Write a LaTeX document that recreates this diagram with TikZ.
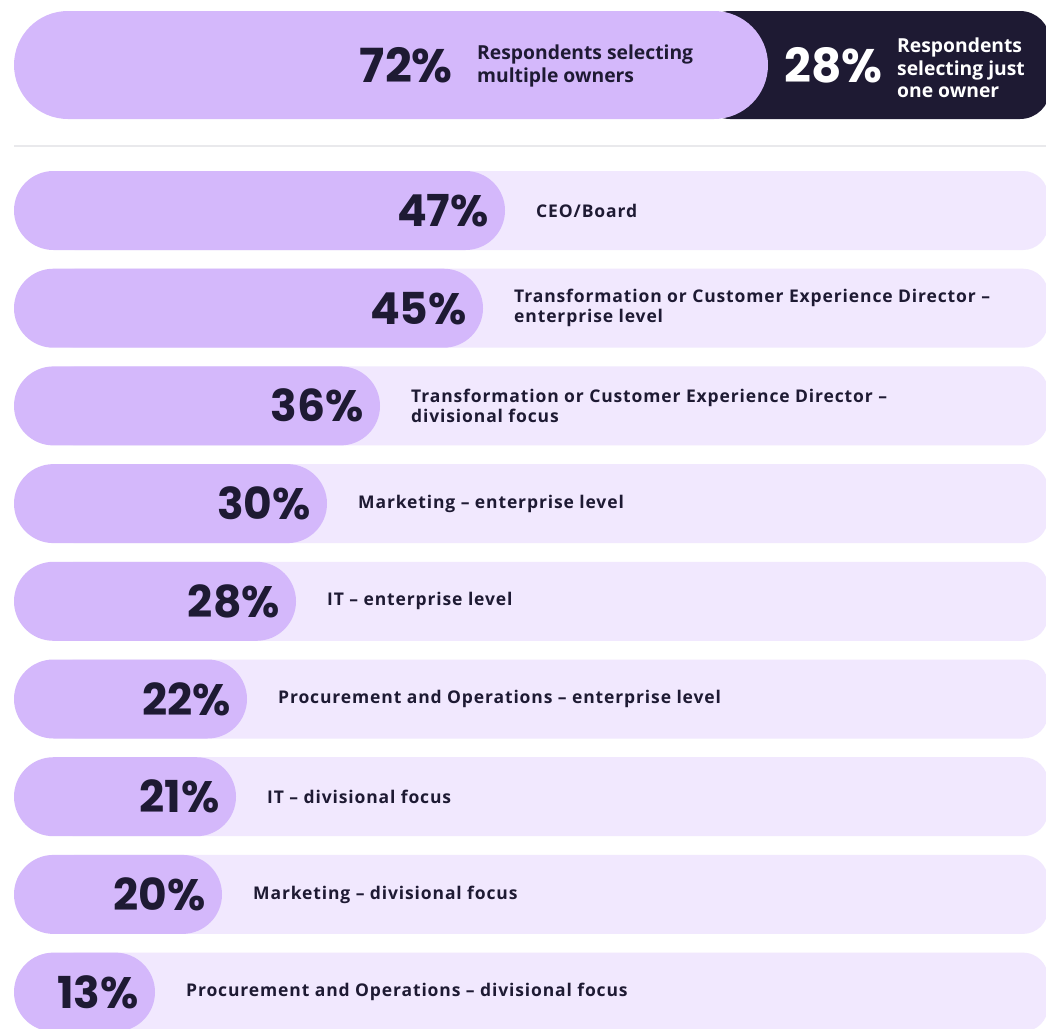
\documentclass[tikz,border=0pt]{standalone}
\usepackage{fontspec}
\setmainfont{Open Sans}
\newfontfamily\labfont[LetterSpace=5]{Open Sans}
\newfontfamily\numfont{Poppins}
\definecolor{lilac}{HTML}{D4B8FB}
\definecolor{lav}{HTML}{F1E8FE}
\definecolor{navy}{HTML}{1E1A33}
\definecolor{sep}{HTML}{E9E9EC}
\tikzset{
  bignum/.style={font=\numfont\bfseries\fontsize{44}{44}\selectfont, text=navy, inner sep=0pt, anchor=base east},
  topnum/.style={font=\numfont\bfseries\fontsize{47}{47}\selectfont, inner sep=0pt, anchor=base east},
  rowlab/.style={font=\labfont\bfseries\fontsize{17.5}{20}\selectfont, text=navy, inner sep=0pt, anchor=west, align=left},
  toplab/.style={font=\bfseries\fontsize{19.3}{22.5}\selectfont, inner sep=0pt, anchor=west, align=left},
}
\begin{document}
\begin{tikzpicture}[x=1pt,y=-1pt]
\useasboundingbox (0,0) rectangle (1046,1028);
\clip (0,0) rectangle (1046,1028);
\fill[white] (0,0) rectangle (1046,1028);
% top bar
\fill[navy, rounded corners=30pt] (700,11) rectangle (1050,119);
\fill[lilac, rounded corners=54pt] (14,11) rectangle (768,119);
\node[topnum, text=navy] (n72) at (453,82) {72\%};
\node[toplab, text=navy] (l72) at (477,66) {Respondents selecting\\multiple owners};
\node[topnum, text=white] (n28) at (883,82) {28\%};
\node[toplab, text=white] (l28) at (897,68) {Respondents\\selecting just\\one owner};
% separator
\draw[sep, line width=1.2pt] (14,146) -- (1046,146);
% rows
\foreach \i/\v/\e/\t in {
  0/47/505/{CEO/Board},
  1/45/483/{Transformation or Customer Experience Director –\\enterprise level},
  2/36/380/{Transformation or Customer Experience Director –\\divisional focus},
  3/30/327/{Marketing – enterprise level},
  4/28/296/{IT – enterprise level},
  5/22/247/{Procurement and Operations – enterprise level},
  6/21/236/{IT – divisional focus},
  7/20/222/{Marketing – divisional focus},
  8/13/155/{Procurement and Operations – divisional focus}} {
  \pgfmathsetmacro{\top}{171+97.7*\i}
  \pgfmathsetmacro{\mid}{\top+39.5}
  \fill[lav, rounded corners=25pt] (50,\top) rectangle (1048,\top+79);
  \fill[lilac, rounded corners=39.5pt] (14,\top) rectangle (\e,\top+79);
  \node[bignum] (num\i) at (\e-16,\mid+16) {\v\%};
  \node[rowlab] (lab\i) at (\e+31,\mid) {\t};
}
\end{tikzpicture}
\end{document}
